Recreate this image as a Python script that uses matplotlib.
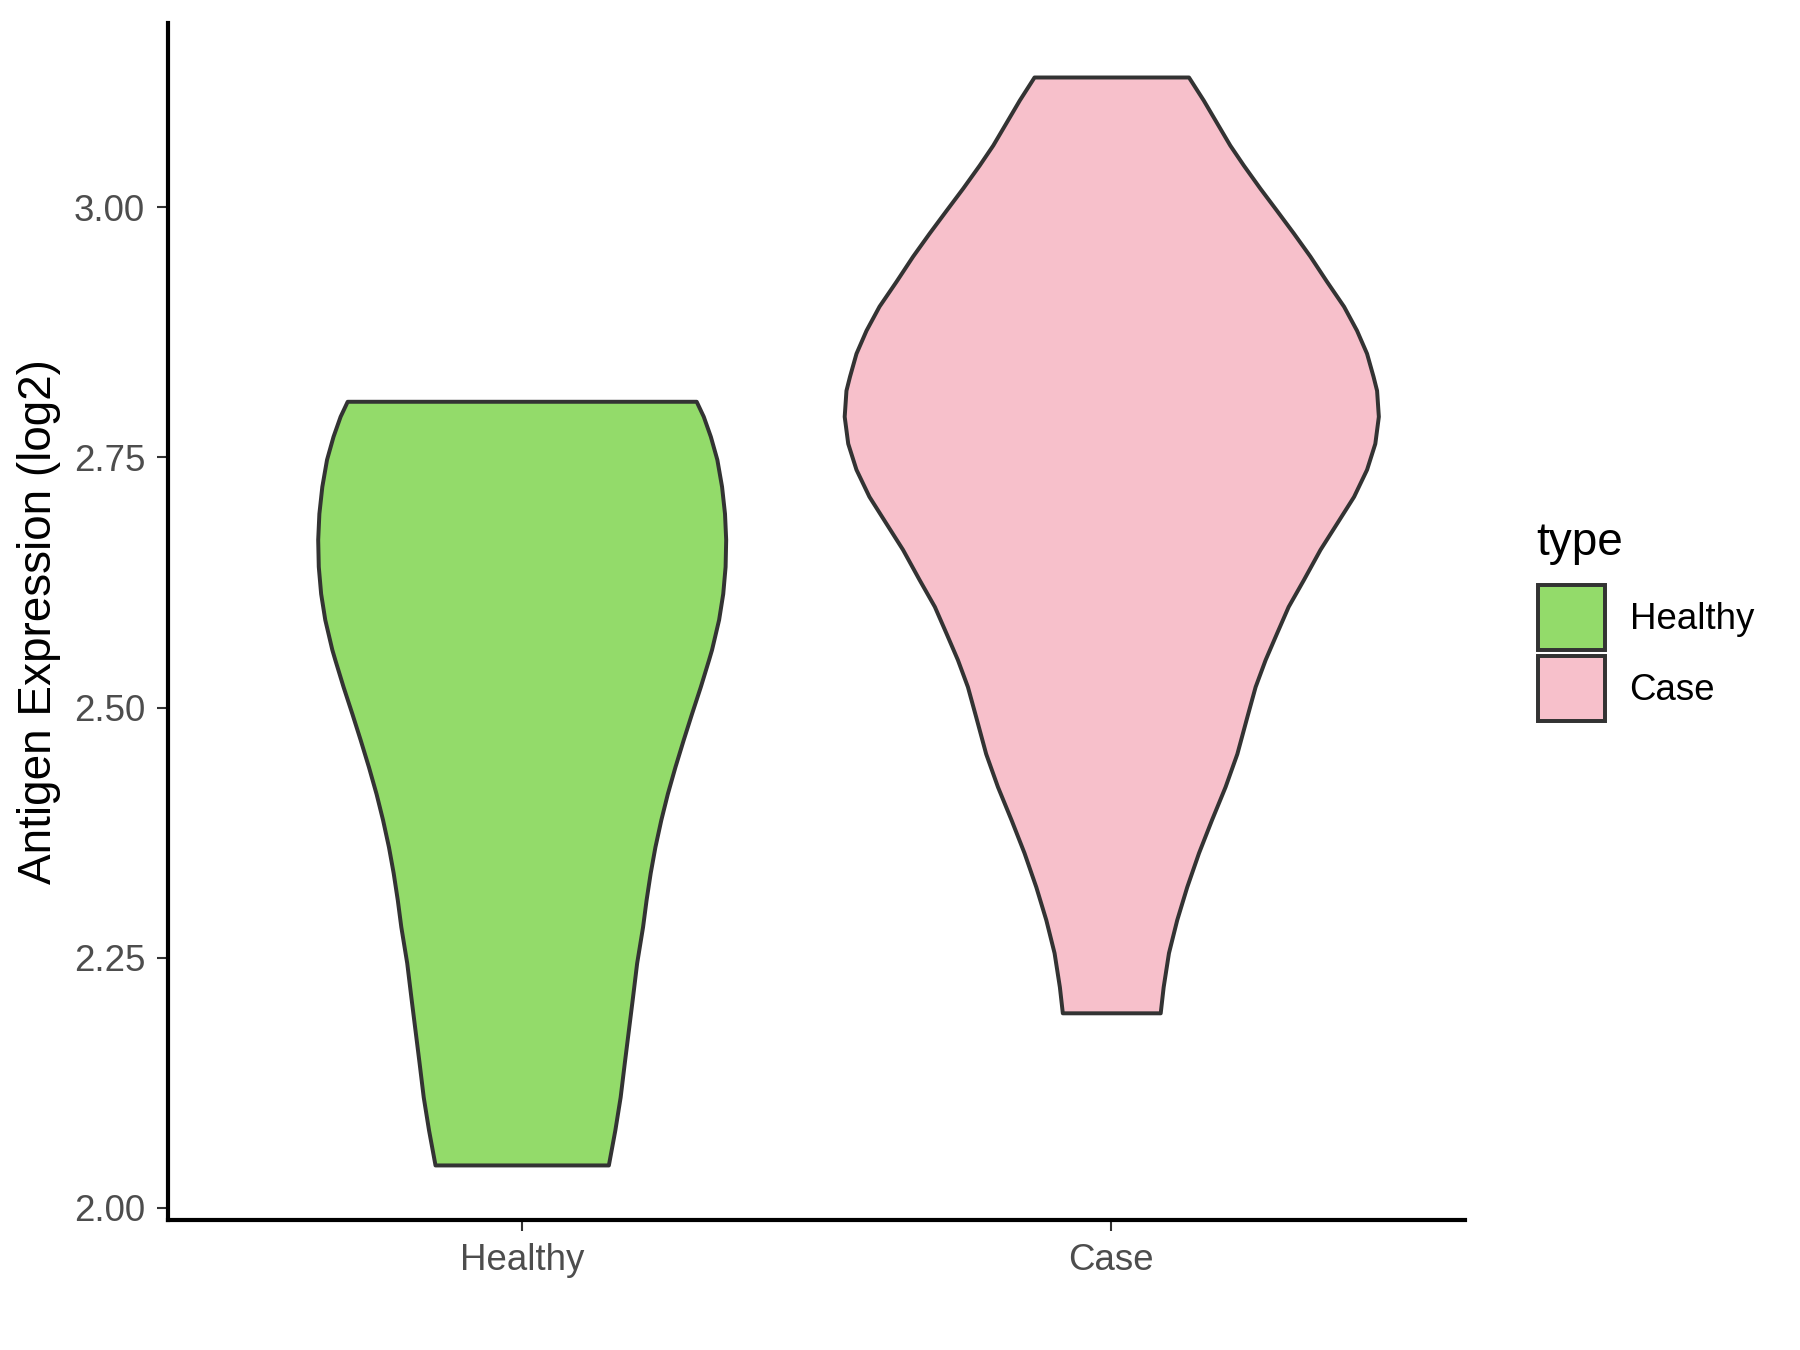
import matplotlib
matplotlib.use("Agg")
import matplotlib.pyplot as plt
from matplotlib.patches import Patch

plt.rcParams['font.family'] = ['Liberation Sans', 'DejaVu Sans']

# categories and colours
groups = ['Healthy', 'Case']
fills = ['#93DB6A', '#F7C0CB']

# violin outlines: y level (log2) and half width (x units)
healthy_y = [2.806, 2.791, 2.771, 2.748, 2.721, 2.694, 2.668, 2.641, 2.614, 2.588,
             2.558, 2.548, 2.521, 2.494, 2.468, 2.441, 2.414, 2.388, 2.361, 2.335,
             2.308, 2.281, 2.245, 2.211, 2.178, 2.145, 2.111, 2.078, 2.043]
healthy_w = [0.296, 0.308, 0.320, 0.331, 0.339, 0.344, 0.346, 0.345, 0.341, 0.334,
             0.322, 0.317, 0.303, 0.288, 0.274, 0.260, 0.247, 0.236, 0.226, 0.218,
             0.211, 0.205, 0.195, 0.188, 0.181, 0.174, 0.167, 0.158, 0.147]

case_y = [3.130, 3.107, 3.084, 3.062, 3.042, 3.019, 2.997, 2.974, 2.951, 2.926,
          2.901, 2.877, 2.854, 2.831, 2.817, 2.791, 2.764, 2.738, 2.711, 2.684,
          2.658, 2.628, 2.601, 2.574, 2.548, 2.521, 2.491, 2.454, 2.421, 2.388,
          2.355, 2.321, 2.288, 2.255, 2.221, 2.195]
case_w = [0.131, 0.156, 0.179, 0.201, 0.224, 0.252, 0.280, 0.309, 0.337, 0.365,
          0.394, 0.416, 0.433, 0.444, 0.450, 0.453, 0.447, 0.433, 0.411, 0.382,
          0.354, 0.326, 0.300, 0.280, 0.261, 0.244, 0.230, 0.213, 0.193, 0.170,
          0.148, 0.128, 0.111, 0.097, 0.088, 0.083]

yticks = [2.00, 2.25, 2.50, 2.75, 3.00]
ytick_labels = ['2.00', '2.25', '2.50', '2.75', '3.00']

fig = plt.figure(figsize=(12, 9), dpi=150)
ax = fig.add_axes([0.0933, 0.0963, 0.7206, 0.8867])

outline = '#333333'
for i, (ys, ws) in enumerate([(healthy_y, healthy_w), (case_y, case_w)]):
    pos = i + 1
    left = [pos - w for w in ws]
    right = [pos + w for w in ws]
    ax.fill_betweenx(ys, left, right, facecolor=fills[i], edgecolor=outline,
                     linewidth=1.9, joinstyle='round')

ax.set_xlim(0.4, 2.6)
ax.set_ylim(1.988, 3.184)
ax.set_xticks([1, 2])
ax.set_xticklabels(groups)
ax.set_yticks(yticks)
ax.set_yticklabels(ytick_labels)

for s in ['top', 'right']:
    ax.spines[s].set_visible(False)
for s in ['left', 'bottom']:
    ax.spines[s].set_linewidth(2.0)
    ax.spines[s].set_color('black')

ax.tick_params(axis='both', length=5.3, width=1.0, color='#333333',
               labelsize=17.6, labelcolor='#4D4D4D', pad=5.6)
ax.set_ylabel('Antigen Expression (log2)', fontsize=22, color='black', labelpad=6)

# legend: keys + labels, title as separate text
handles = [Patch(facecolor=fills[i], edgecolor=outline, linewidth=1.9, label=groups[i])
           for i in range(2)]
leg = ax.legend(handles=handles, loc='upper left',
                bbox_to_anchor=(0.8546, 0.5667), bbox_transform=fig.transFigure,
                frameon=False, fontsize=17.6,
                handlelength=1.81, handleheight=2.35, labelspacing=0.177,
                handletextpad=0.68, borderpad=0, borderaxespad=0)
fig.text(0.8537, 1 - 555 / 1350, 'type', fontsize=22, ha='left', va='baseline')

fig.savefig('out.png', dpi=150)
